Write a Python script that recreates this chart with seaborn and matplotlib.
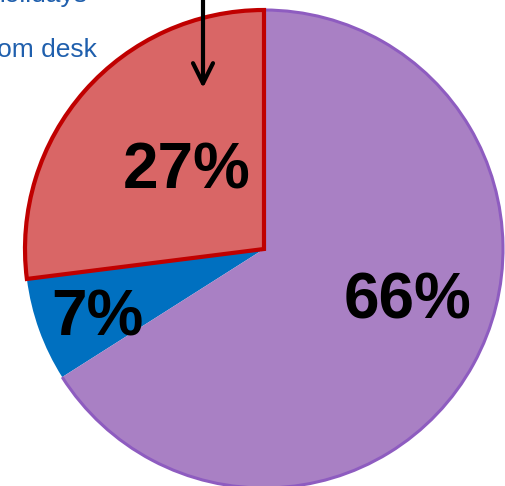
import matplotlib
matplotlib.use("Agg")
import matplotlib.pyplot as plt
from matplotlib.patches import Arc
import seaborn as sns

# Share of time per activity (percent), drawn counter-clockwise from 12 o'clock
categories = ["Holidays", "Away from desk", "Other"]
shares = [27, 7, 66]
legend_labels = ["holidays", "from desk"]

fill_colors = ["#D96666", "#0070C0", "#A980C4"]
edge_colors = ["#C00000", "none", "#8E5CC0"]

sns.set_theme(style="white")
plt.rcParams["font.family"] = ["Liberation Sans", "DejaVu Sans"]

W, H = 506, 486
CX, CY, R = 264, 249, 239  # pie centre and radius in pixels


def px(x, y):
    """Pixel position (from top-left) to data coordinates."""
    return (x - CX) / R, (CY - y) / R


fig = plt.figure(figsize=(W / 100, H / 100), dpi=100)
ax = fig.add_axes([0, 0, 1, 1])

wedges, _ = ax.pie(shares, colors=fill_colors, startangle=90, counterclock=True,
                   radius=1, center=(0, 0),
                   wedgeprops=dict(linewidth=0, antialiased=True))

# Both axes use the same pixels-per-unit, so fixed limits keep the pie round
ax.set_aspect("auto")
ax.set_xlim(-CX / R, (W - CX) / R)
ax.set_ylim(-(H - CY) / R, CY / R)
ax.axis("off")

# Outer rim for the large slice, full outline for the highlighted slice
big = wedges[2]
ax.add_patch(Arc((0, 0), 2 * big.r, 2 * big.r, theta1=big.theta1, theta2=big.theta2,
                 color=edge_colors[2], lw=2.2, zorder=3))
hl = wedges[0]
hl.set_edgecolor(edge_colors[0])
hl.set_linewidth(3.0)
hl.set_zorder(4)

# Percentage labels
label_pos = [(187, 188), (97.5, 335), (408, 318)]
for v, (x, y) in zip(shares, label_pos):
    ax.text(*px(x, y), f"{v}%", ha="center", va="baseline",
            fontsize=46, fontweight="bold", color="black", zorder=6)

# Legend text entries
ax.text(*px(87, 2), legend_labels[0], ha="right", va="baseline",
        fontsize=19, color="#1F5FAD")
ax.text(*px(97, 57), legend_labels[1], ha="right", va="baseline",
        fontsize=19, color="#1F5FAD")

# Pointer arrow into the highlighted slice
ax.annotate("", xy=px(203, 88), xytext=px(203, -10),
            arrowprops=dict(arrowstyle="->,head_length=1.45,head_width=0.72",
                            lw=3, color="black", shrinkA=0, shrinkB=0,
                            mutation_scale=10),
            zorder=7)

fig.savefig("out.png", dpi=100)
